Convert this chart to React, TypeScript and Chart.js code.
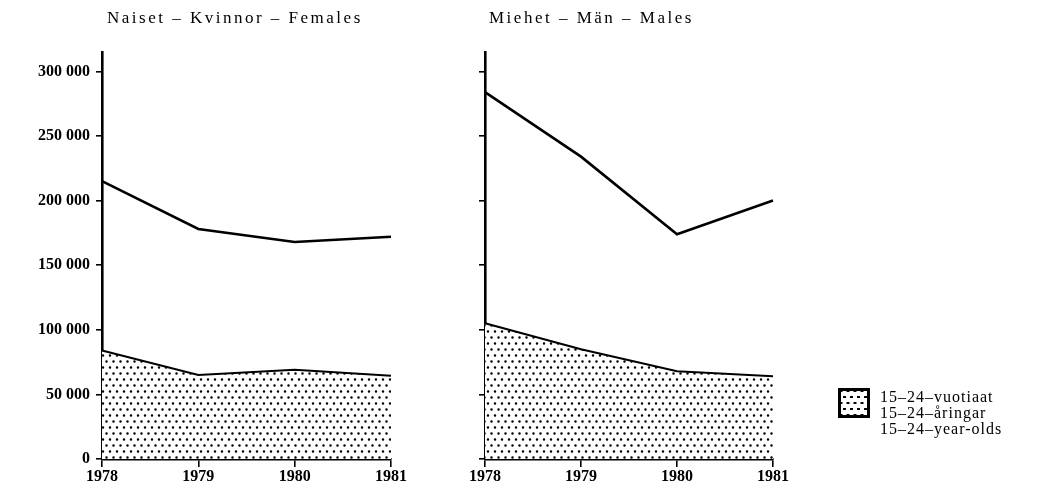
import React, { useEffect, useRef } from "react";
import { Chart, registerables } from "chart.js";

Chart.register(...registerables);

const years = ["1978", "1979", "1980", "1981"];
const femalesTotal = [215000, 178000, 168000, 172000];
const femalesYouth = [84000, 65000, 69000, 64500];
const malesTotal = [284000, 234000, 174000, 200000];
const malesYouth = [105000, 85000, 68000, 64000];
const yTickValues = [0, 50000, 100000, 150000, 200000, 250000, 300000];
const titleFemales = "Naiset – Kvinnor – Females";
const titleMales = "Miehet – Män – Males";
const legendLines = ["15–24–vuotiaat", "15–24–åringar", "15–24–year-olds"];

const W = 1045;
const H = 494;
const SERIF = "'Liberation Serif', 'DejaVu Serif', serif";

function makePattern(): CanvasPattern | string {
  const c = document.createElement("canvas");
  c.width = 7;
  c.height = 12;
  const ctx = c.getContext("2d");
  if (!ctx) return "#bbb";
  ctx.fillStyle = "#fff";
  ctx.fillRect(0, 0, 7, 12);
  ctx.fillStyle = "#000";
  ctx.beginPath();
  ctx.arc(1.5, 1.5, 1.25, 0, Math.PI * 2);
  ctx.closePath();
  ctx.moveTo(6.25, 7.5);
  ctx.arc(5.0, 7.5, 1.25, 0, Math.PI * 2);
  ctx.closePath();
  ctx.fill();
  return ctx.createPattern(c, "repeat") || "#bbb";
}

function fmt(v: number): string {
  if (v === 0) return "0";
  const s = String(v);
  return s.slice(0, s.length - 3) + " " + s.slice(s.length - 3);
}

function buildChart(
  canvas: HTMLCanvasElement,
  total: number[],
  youth: number[],
  axisX: number,
  rightPad: number,
  showYLabels: boolean
) {
  const pattern = makePattern();
  return new Chart(canvas, {
    type: "line",
    data: {
      labels: years,
      datasets: [
        {
          data: youth,
          borderColor: "#000",
          borderWidth: 2,
          backgroundColor: pattern as any,
          fill: "origin",
          pointRadius: 0,
          tension: 0,
        },
        {
          data: total,
          borderColor: "#000",
          borderWidth: 2.6,
          fill: false,
          pointRadius: 0,
          tension: 0,
        },
      ],
    },
    options: {
      responsive: false,
      animation: false,
      devicePixelRatio: 1,
      layout: { padding: { left: 0, right: rightPad, top: 52, bottom: 0 } },
      plugins: {
        legend: { display: false },
        title: { display: false },
        tooltip: { enabled: false },
      },
      scales: {
        x: {
          type: "category",
          offset: false,
          grid: {
            display: true,
            drawOnChartArea: false,
            drawTicks: true,
            tickLength: 8,
            color: "#000",
            lineWidth: 1.6,
          },
          border: { display: true, color: "#000", width: 2.6 },
          ticks: {
            color: "#000",
            font: { family: SERIF, size: 16, weight: "bold" },
            padding: 0,
            maxRotation: 0,
            autoSkip: false,
          },
          afterFit: (s: any) => {
            s.height = 35;
          },
        },
        y: {
          type: "linear",
          min: 0,
          max: 315000,
          afterBuildTicks: (s: any) => {
            s.ticks = yTickValues.map((v) => ({ value: v }));
          },
          grid: {
            display: true,
            drawOnChartArea: false,
            drawTicks: true,
            tickLength: 6,
            color: "#000",
            lineWidth: 1.6,
          },
          border: { display: true, color: "#000", width: 2.6 },
          ticks: {
            display: showYLabels,
            color: "#000",
            font: { family: SERIF, size: 16, weight: "bold" },
            padding: 6,
            callback: (v: any) => fmt(Number(v)),
          },
          afterFit: (s: any) => {
            s.width = axisX;
          },
        },
      },
    } as any,
  });
}

export default function App() {
  const leftRef = useRef<HTMLCanvasElement>(null);
  const rightRef = useRef<HTMLCanvasElement>(null);

  useEffect(() => {
    const charts: Chart[] = [];
    if (leftRef.current) {
      charts.push(buildChart(leftRef.current, femalesTotal, femalesYouth, 102, W - 391, true));
    }
    if (rightRef.current) {
      charts.push(buildChart(rightRef.current, malesTotal, malesYouth, 485, W - 773, false));
    }
    return () => charts.forEach((c) => c.destroy());
  }, []);

  const canvasStyle: React.CSSProperties = {
    position: "absolute",
    left: 0,
    top: 0,
    width: W,
    height: H,
  };
  const titleStyle: React.CSSProperties = {
    position: "absolute",
    top: 8,
    fontFamily: SERIF,
    fontSize: 17,
    color: "#000",
    whiteSpace: "nowrap",
    letterSpacing: "2.5px",
  };
  const legendText: React.CSSProperties = {
    position: "absolute",
    left: 880,
    fontFamily: SERIF,
    fontSize: 16,
    letterSpacing: "1px",
    color: "#000",
    whiteSpace: "nowrap",
    lineHeight: "16px",
  };

  return (
    <div style={{ position: "absolute", left: 0, top: 0, width: W, height: H, background: "#fff" }}>
      <canvas ref={leftRef} width={W} height={H} style={canvasStyle} />
      <canvas ref={rightRef} width={W} height={H} style={canvasStyle} />
      <div style={{ ...titleStyle, left: 107 }}>{titleFemales}</div>
      <div style={{ ...titleStyle, left: 489 }}>{titleMales}</div>
      <div
        style={{
          position: "absolute",
          left: 838,
          top: 388,
          width: 26,
          height: 24,
          border: "3px solid #000",
          backgroundColor: "#fff",
          backgroundImage:
            "radial-gradient(circle, #000 1.1px, transparent 1.5px), radial-gradient(circle, #000 1.1px, transparent 1.5px)",
          backgroundSize: "7px 12px, 7px 12px",
          backgroundPosition: "0 0, 3.5px 6px",
        }}
      />
      <div style={{ ...legendText, top: 389 }}>{legendLines[0]}</div>
      <div style={{ ...legendText, top: 405 }}>{legendLines[1]}</div>
      <div style={{ ...legendText, top: 421 }}>{legendLines[2]}</div>
    </div>
  );
}
